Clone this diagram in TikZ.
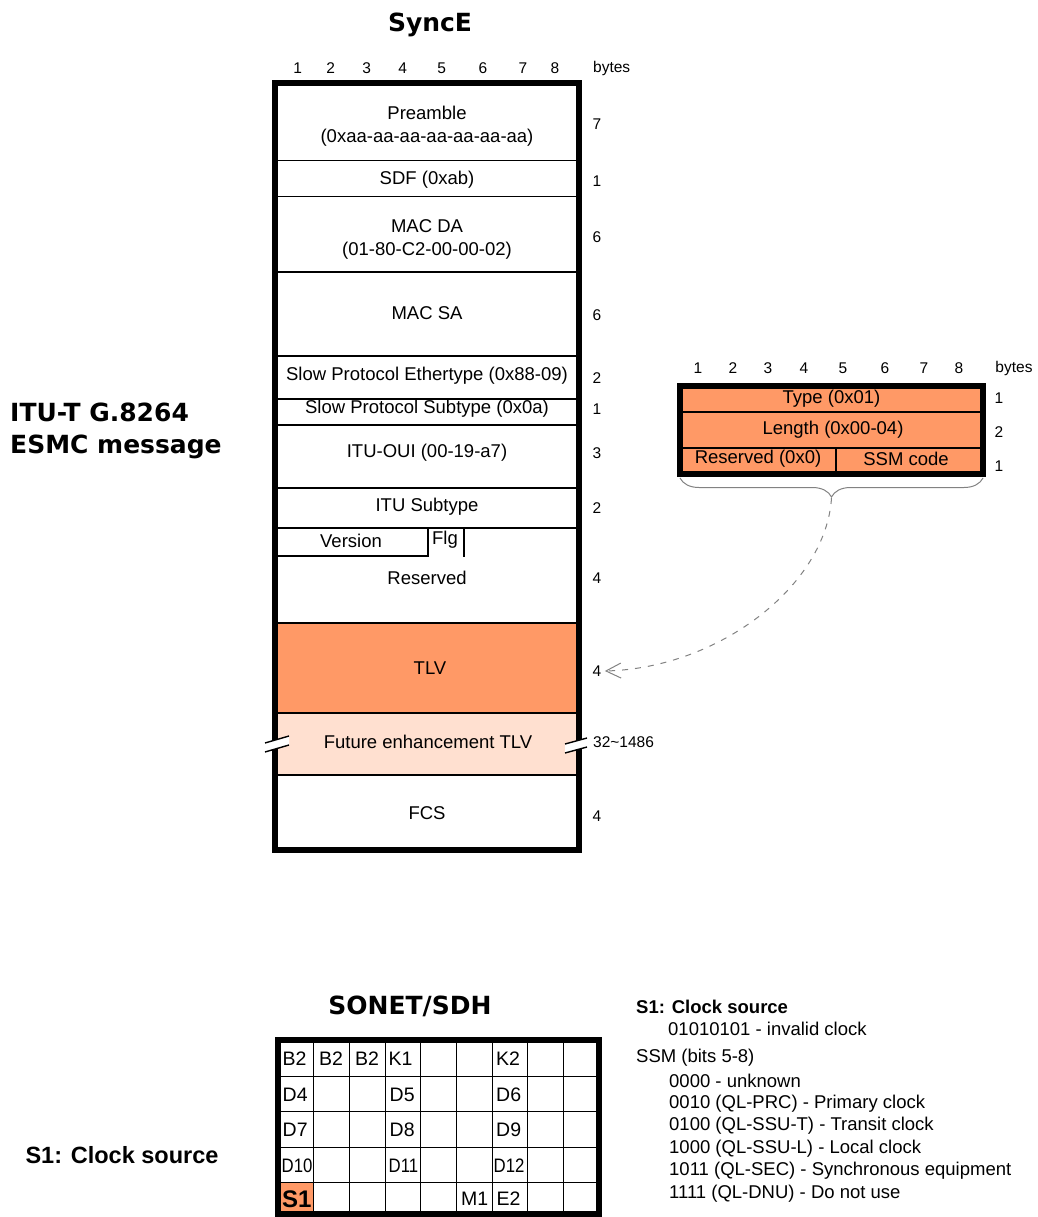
\documentclass[tikz,border=0pt]{standalone}
\usepackage{graphicx}
\usepackage{fontspec}
\setmainfont{Liberation Sans}
\newfontfamily\verdana{DejaVu Sans}
\usetikzlibrary{arrows.meta,decorations.pathreplacing}

\definecolor{tlvorange}{RGB}{255,153,102}
\definecolor{tlvlight}{RGB}{255,224,208}
\definecolor{linkgray}{RGB}{130,130,130}

\tikzset{
  frame/.style={line width=6pt},
  sep/.style={line width=1.6pt},
  gridline/.style={line width=1pt},
  lbl/.style={font=\fontsize{18.5}{23}\selectfont, inner sep=0pt},
  num/.style={font=\fontsize{15.5}{18}\selectfont},
  ttl/.style={font=\verdana\bfseries\fontsize{25}{32}\selectfont, inner sep=0pt},
  cellt/.style={anchor=west, inner sep=0pt, font=\fontsize{19.5}{21}\selectfont},
  legend/.style={anchor=west, inner sep=0pt, font=\fontsize{18.5}{22}\selectfont},
  breakmark/.style={fill=white, draw=none}
}

\begin{document}
\begin{tikzpicture}[x=1pt, y=-1pt]
  \useasboundingbox (0,0) rectangle (1037,1217);

  % titles
  \node[ttl] (synce) at (430,25) {SyncE};
  \node[ttl, anchor=west, align=left] (esmc) at (10,431) {ITU-T G.8264\\ESMC message};
  \node[ttl] (sonet) at (410,1006) {SONET/SDH};

  % byte columns of the frame
  \foreach \i/\x in {1/297.7,2/330.7,3/366.7,4/402.7,5/441.7,6/483,7/523,8/555}
    \node[num] (col\i) at (\x,68) {\i};
  \node[num] (bytesA) at (611.7,68) {bytes};

  % ESMC frame
  \fill[tlvorange] (272,623) rectangle (578.5,713);
  \fill[tlvlight] (272,713) rectangle (578.5,775);
  \foreach \y in {160.5,196.5,272,356,399,425,488,528,623,713,775}
    \draw[sep] (275,\y) -- (578.5,\y);
  \draw[sep] (275,556) -- (428,556);
  \draw[sep] (428,528) -- (428,557);
  \draw[sep] (464,528) -- (464,557);
  \draw[frame] (275,83) rectangle (578.5,850);

  % break marks
  \fill[breakmark] (265,743) -- (289,736) -- (289,745) -- (265,752) -- cycle;
  \draw[line width=1.4pt] (265,743) -- (289,736) (265,752) -- (289,745);
  \fill[breakmark] (565,744) -- (587,738) -- (587,747) -- (565,753) -- cycle;
  \draw[line width=1.4pt] (565,744) -- (587,738) (565,753) -- (587,747);

  \node[lbl, align=center] (preamble) at (427,126.5) {Preamble\\(0xaa-aa-aa-aa-aa-aa-aa)};
  \node[lbl] (sdf) at (427,180) {SDF (0xab)};
  \node[lbl, align=center] (macda) at (427,239) {MAC DA\\(01-80-C2-00-00-02)};
  \node[lbl] (macsa) at (427,313) {MAC SA};
  \node[lbl] (ethtype) at (427,376) {Slow Protocol Ethertype (0x88-09)};
  \node[lbl] (subtype) at (427,409) {Slow Protocol Subtype (0x0a)};
  \node[lbl] (oui) at (427,453) {ITU-OUI (00-19-a7)};
  \node[lbl] (itusub) at (427,507) {ITU Subtype};
  \node[lbl] (version) at (351,541) {Version};
  \node[lbl] (flg) at (445,540) {Flg};
  \node[lbl] (reserved) at (427,578) {Reserved};
  \node[lbl] (tlv) at (430,668) {TLV};
  \node[lbl] (future) at (428,742) {Future enhancement TLV};
  \node[lbl] (fcs) at (427,813) {FCS};

  % byte counts
  \node[num] (bPre) at (597,124) {7};
  \node[num] (bSdf) at (597,181) {1};
  \node[num] (bDa) at (597,237) {6};
  \node[num] (bSa) at (597,315) {6};
  \node[num] (bEth) at (597,378) {2};
  \node[num] (bSub) at (597,409) {1};
  \node[num] (bOui) at (597,453) {3};
  \node[num] (bItu) at (597,508) {2};
  \node[num] (bRes) at (597,578) {4};
  \node[num] (bTLV) at (597,671) {4};
  \node[num, anchor=west, inner sep=0pt] (bFut) at (593,742) {32\textasciitilde 1486};
  \node[num] (bFcs) at (597,816) {4};

  % TLV detail
  \foreach \i/\x in {1/698,2/733,3/768,4/804,5/843,6/885,7/924,8/959}
    \node[num] (tcol\i) at (\x,368) {\i};
  \node[num] (bytesB) at (1014,368) {bytes};
  \fill[tlvorange] (680,385.5) rectangle (983,473.7);
  \draw[sep] (680,412) -- (983,412);
  \draw[sep] (680,448) -- (983,448);
  \draw[sep] (836,448) -- (836,473.7);
  \draw[frame] (680,385.5) rectangle (983,473.7);
  \node[lbl] (ttype) at (831.5,399) {Type (0x01)};
  \node[lbl] (tlen) at (833,430) {Length (0x00-04)};
  \node[lbl] (tres) at (758,459) {Reserved (0x0)};
  \node[lbl] (tssm) at (906,459) {SSM code};
  \node[num] (tb1) at (999,398) {1};
  \node[num] (tb2) at (999,432) {2};
  \node[num] (tb3) at (999,466) {1};

  \draw[linkgray, line width=1pt, decorate, decoration={brace, mirror, amplitude=19pt}]
    (680,478) -- (983,478);
  \coordinate (brtip) at (831.5,498);
  \draw[linkgray, line width=1pt, dash pattern=on 6pt off 7pt,
        -{Straight Barb[length=15pt, width=15pt]}]
    (brtip) .. controls (826,585) and (720,668) .. (bTLV.east);

  % SONET/SDH overhead
  \fill[tlvorange] (278,1182.7) rectangle (313.7,1214);
  \foreach \k in {1,...,8}
    \draw[gridline] ({278+\k*35.67},1040) -- ({278+\k*35.67},1214);
  \foreach \y in {1076,1111.7,1147.3,1182.7}
    \draw[gridline] (278,\y) -- (599,\y);
  \draw[frame] (278,1040) rectangle (599,1214);

  \node[cellt] (b2a) at (282.5,1059) {B2};
  \node[cellt] (b2b) at (319,1059) {B2};
  \node[cellt] (b2c) at (355,1059) {B2};
  \node[cellt] (k1) at (388.5,1059) {K1};
  \node[cellt] (k2) at (496,1059) {K2};
  \node[cellt] (d4) at (282.5,1094.5) {D4};
  \node[cellt] (d5) at (389.5,1094.5) {D5};
  \node[cellt] (d6) at (496,1094.5) {D6};
  \node[cellt] (d7) at (282.5,1130) {D7};
  \node[cellt] (d8) at (389.5,1130) {D8};
  \node[cellt] (d9) at (496,1130) {D9};
  \node[cellt] (d10) at (281.5,1165.5) {\scalebox{0.86}[1]{D10}};
  \node[cellt] (d11) at (388.5,1165.5) {\scalebox{0.86}[1]{D11}};
  \node[cellt] (d12) at (493.5,1165.5) {\scalebox{0.86}[1]{D12}};
  \node[cellt, font=\bfseries\fontsize{24}{26}\selectfont] (s1) at (282,1199) {S1};
  \node[cellt] (m1) at (461,1199) {M1};
  \node[cellt] (e2) at (496.5,1199) {E2};

  \node[inner sep=0pt, font=\bfseries\fontsize{23.5}{26}\selectfont] (s1left) at (122,1155) {S1: Clock source};

  % legend
  \node[legend, font=\bfseries\fontsize{18.5}{22}\selectfont] (lgS1) at (636,1007) {S1: Clock source};
  \node[legend] (lgInv) at (668,1029) {01010101 - invalid clock};
  \node[legend] (lgSsm) at (636,1058) {SSM (bits 5-8)};
  \node[legend] (lg0) at (669,1081) {0000 - unknown};
  \node[legend] (lg1) at (669,1103.5) {0010 (QL-PRC) - Primary clock};
  \node[legend] (lg2) at (669,1126) {0100 (QL-SSU-T) - Transit clock};
  \node[legend] (lg3) at (669,1148.5) {1000 (QL-SSU-L) - Local clock};
  \node[legend] (lg4) at (669,1171) {1011 (QL-SEC) - Synchronous equipment};
  \node[legend] (lg5) at (669,1193.5) {1111 (QL-DNU) - Do not use};
\end{tikzpicture}
\end{document}
